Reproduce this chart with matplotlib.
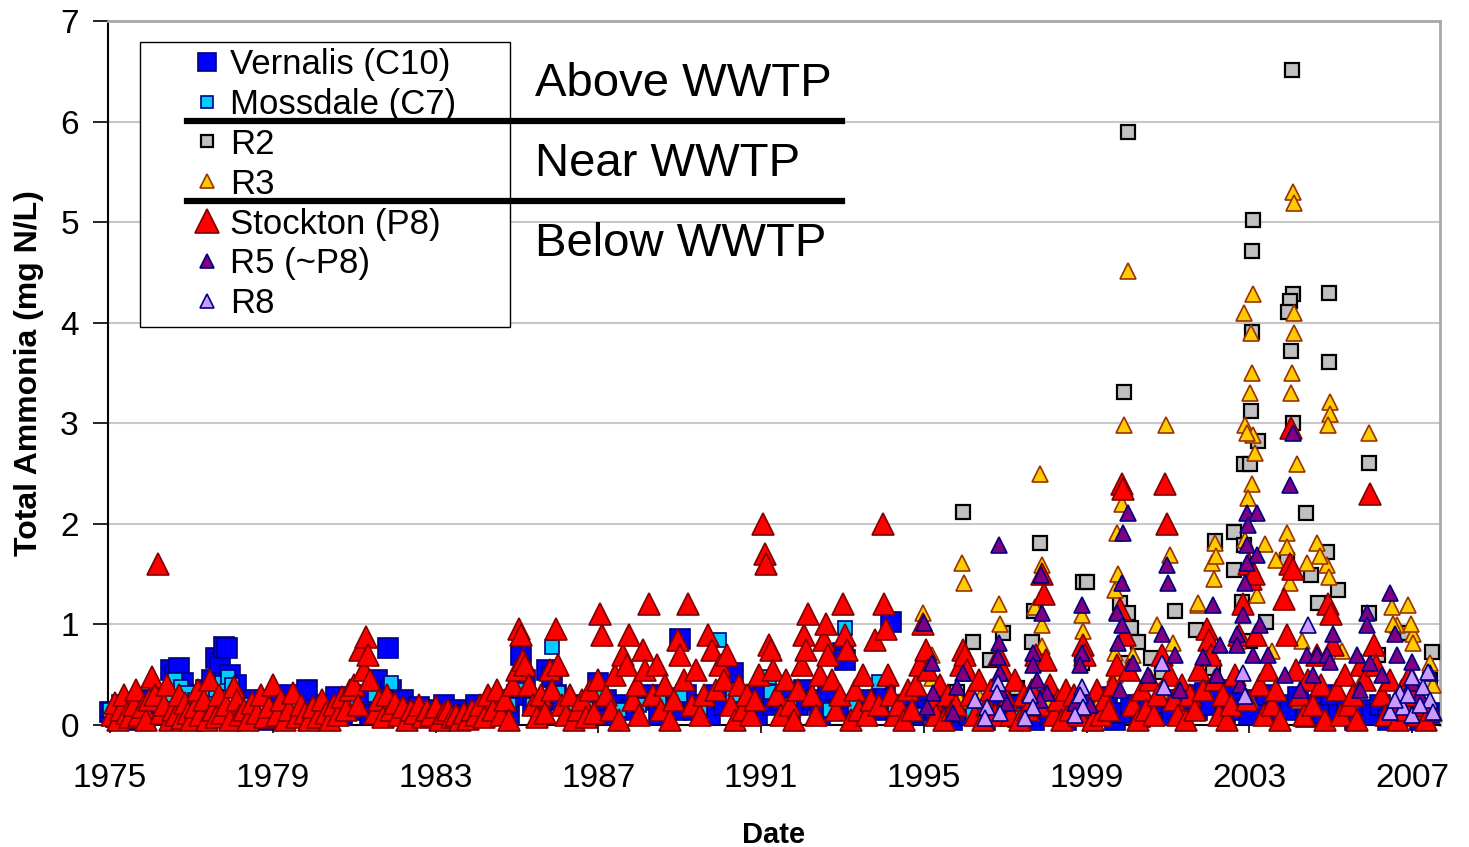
import numpy as np
import matplotlib.pyplot as plt
from matplotlib.lines import Line2D
from matplotlib.patches import Rectangle

plt.rcParams['font.family'] = ['Liberation Sans', 'DejaVu Sans']

# total ammonia (mg N/L) by decimal year
vernalis = [
    (1975.0, 0.13), (1975.15, 0.08), (1975.3, 0.2), (1975.45, 0.1), (1975.6, 0.05), (1975.75, 0.15), (1975.9, 0.25),
    (1976.05, 0.12), (1976.2, 0.3), (1976.35, 0.1), (1976.5, 0.55), (1976.6, 0.5), (1976.7, 0.57), (1976.8, 0.42), (1976.9, 0.2),
    (1977.05, 0.3), (1977.2, 0.1), (1977.35, 0.35), (1977.5, 0.45), (1977.6, 0.67), (1977.7, 0.62), (1977.8, 0.78), (1977.88, 0.77), (1977.95, 0.5),
    (1978.1, 0.4), (1978.25, 0.2), (1978.4, 0.1), (1978.55, 0.25), (1978.7, 0.15), (1978.85, 0.05),
    (1979.0, 0.2), (1979.2, 0.1), (1979.35, 0.3), (1979.5, 0.12), (1979.65, 0.22), (1979.84, 0.35),
    (1980.0, 0.15), (1980.2, 0.05), (1980.35, 0.2), (1980.55, 0.28), (1980.7, 0.1), (1980.85, 0.18),
    (1981.0, 0.15), (1981.2, 0.3), (1981.4, 0.1), (1981.55, 0.45), (1981.7, 0.25), (1981.83, 0.77), (1981.9, 0.35),
    (1982.05, 0.15), (1982.2, 0.25), (1982.4, 0.1), (1982.6, 0.18), (1982.8, 0.08),
    (1983.0, 0.15), (1983.2, 0.2), (1983.4, 0.05), (1983.6, 0.15), (1983.8, 0.1),
    (1984.0, 0.2), (1984.2, 0.1), (1984.4, 0.15), (1984.6, 0.25), (1984.8, 0.1),
    (1985.0, 0.3), (1985.1, 0.7), (1985.2, 0.45), (1985.4, 0.2), (1985.6, 0.15), (1985.75, 0.55), (1985.86, 0.48), (1985.95, 0.3),
    (1986.1, 0.25), (1986.3, 0.15), (1986.5, 0.1), (1986.7, 0.2), (1986.9, 0.15),
    (1986.99, 0.42), (1987.2, 0.25), (1987.4, 0.1), (1987.6, 0.2), (1987.8, 0.15),
    (1988.0, 0.25), (1988.3, 0.3), (1988.5, 0.1), (1988.7, 0.2), (1988.9, 0.15),
    (1989.0, 0.86), (1989.15, 0.3), (1989.35, 0.15), (1989.55, 0.2), (1989.75, 0.1), (1989.9, 0.3),
    (1990.1, 0.2), (1990.3, 0.52), (1990.5, 0.15), (1990.7, 0.3), (1990.9, 0.1),
    (1991.1, 0.3), (1991.3, 0.2), (1991.5, 0.25), (1991.7, 0.1), (1991.9, 0.2),
    (1992.05, 0.35), (1992.25, 0.25), (1992.45, 0.1), (1992.65, 0.3), (1992.85, 0.15),
    (1993.0, 0.72), (1993.05, 0.65), (1993.25, 0.2), (1993.45, 0.1), (1993.65, 0.25), (1993.85, 0.15),
    (1994.05, 0.3), (1994.2, 1.02), (1994.35, 0.15), (1994.55, 0.2), (1994.75, 0.1), (1994.9, 0.2),
    (1995.1, 0.15), (1995.3, 0.1), (1995.5, 0.2), (1995.7, 0.05), (1995.9, 0.15),
    (1996.1, 0.1), (1996.3, 0.2), (1996.5, 0.05), (1996.7, 0.15), (1996.9, 0.1),
    (1997.1, 0.2), (1997.3, 0.08), (1997.5, 0.15), (1997.7, 0.05), (1997.9, 0.25),
    (1998.1, 0.1), (1998.3, 0.18), (1998.5, 0.05), (1998.7, 0.12), (1998.9, 0.2),
    (1999.1, 0.1), (1999.3, 0.15), (1999.5, 0.28), (1999.7, 0.05), (1999.9, 0.12),
    (2000.1, 0.2), (2000.3, 0.08), (2000.5, 0.15), (2000.7, 0.1), (2000.9, 0.22),
    (2001.1, 0.1), (2001.3, 0.25), (2001.5, 0.3), (2001.7, 0.15), (2001.9, 0.32),
    (2002.05, 0.2), (2002.2, 0.35), (2002.4, 0.1), (2002.6, 0.3), (2002.8, 0.15),
    (2003.0, 0.1), (2003.2, 0.25), (2003.4, 0.3), (2003.6, 0.12), (2003.8, 0.2),
    (2004.0, 0.15), (2004.2, 0.28), (2004.4, 0.08), (2004.6, 0.2), (2004.8, 0.12),
    (2005.0, 0.3), (2005.2, 0.1), (2005.4, 0.18), (2005.6, 0.05), (2005.8, 0.15),
    (2006.0, 0.1), (2006.2, 0.2), (2006.4, 0.05), (2006.6, 0.12), (2006.8, 0.15),
    (2007.0, 0.1), (2007.2, 0.05), (2007.4, 0.12),
]

mossdale = [
    (1975.0, 0.15), (1975.2, 0.1), (1975.5, 0.2), (1975.8, 0.12), (1976.1, 0.25), (1976.4, 0.3),
    (1976.6, 0.45), (1976.75, 0.38), (1976.9, 0.32), (1977.1, 0.25), (1977.4, 0.3), (1977.6, 0.35),
    (1977.75, 0.42), (1977.9, 0.48), (1978.0, 0.4), (1978.3, 0.2), (1978.6, 0.15), (1979.0, 0.1),
    (1979.5, 0.15), (1980.0, 0.12), (1980.5, 0.1), (1981.0, 0.2), (1981.5, 0.3), (1981.9, 0.42),
    (1982.3, 0.15), (1982.8, 0.1), (1983.3, 0.12), (1983.8, 0.1), (1984.3, 0.15), (1984.8, 0.2),
    (1985.1, 0.35), (1985.4, 0.2), (1985.86, 0.78), (1986.0, 0.32), (1986.3, 0.15), (1986.7, 0.2),
    (1987.0, 0.3), (1987.5, 0.15), (1988.0, 0.2), (1988.5, 0.25), (1989.0, 0.3), (1989.5, 0.15),
    (1989.96, 0.85), (1990.3, 0.3), (1990.7, 0.15), (1991.2, 0.48), (1991.25, 0.33), (1991.7, 0.2),
    (1992.2, 0.25), (1992.7, 0.15), (1993.06, 0.96), (1993.3, 0.2), (1993.9, 0.43), (1994.3, 0.2),
    (1994.8, 0.1), (1995.2, 0.15), (1995.7, 0.1), (1996.2, 0.12), (1996.7, 0.08), (1997.2, 0.1),
]

r2 = [
    (1995.96, 2.12), (2004.04, 6.51), (2000.01, 5.9), (2003.08, 5.02), (2003.06, 4.71), (2004.07, 4.29),
    (2004.95, 4.3), (2003.99, 4.22), (2003.94, 4.11), (2003.06, 3.91), (1999.91, 3.31), (2004.02, 3.72),
    (2004.95, 3.61), (2003.03, 3.12), (2004.07, 3.0), (2003.21, 2.82), (2002.86, 2.6), (2003.01, 2.6),
    (2005.93, 2.61), (2004.39, 2.11), (1997.85, 1.81), (1998.91, 1.42), (1999.0, 1.42), (2002.62, 1.92),
    (2002.86, 1.79), (2002.15, 1.83), (2003.92, 1.64), (2004.9, 1.72), (2004.51, 1.49), (2002.81, 1.22),
    (2004.68, 1.21), (2005.93, 1.11), (1999.82, 1.21), (2000.01, 1.11), (2000.09, 0.96), (2000.26, 0.83),
    (2001.17, 1.13), (1997.7, 1.13), (1997.65, 0.83), (1996.2, 0.83), (1996.94, 0.92), (1996.62, 0.65),
    (1995.81, 0.33), (1997.29, 0.37), (1998.88, 0.62), (1999.86, 0.62), (2000.58, 0.67), (2000.85, 0.53),
    (2001.68, 0.94), (2002.1, 0.57), (2002.62, 1.54), (2003.01, 0.84), (2003.4, 1.02), (2005.17, 1.34),
    (2006.15, 0.7), (2006.87, 0.92), (2007.48, 0.73), (2006.82, 0.25), (2007.43, 0.45),
]

r3 = [
    (2000.01, 4.51), (2004.07, 5.3), (2004.09, 5.19), (2003.08, 4.29), (2002.86, 4.1), (2004.09, 4.1),
    (2003.03, 3.9), (2004.09, 3.9), (2003.06, 3.5), (2004.04, 3.5), (2003.01, 3.3), (2004.02, 3.3),
    (2004.98, 3.21), (2004.98, 3.09), (2004.93, 2.98), (1999.91, 2.98), (2000.95, 2.98), (2002.89, 2.98),
    (2003.08, 2.88), (2003.13, 2.7), (2005.93, 2.9), (2004.17, 2.6), (2002.94, 2.9), (2003.06, 2.4),
    (2002.96, 2.26), (2002.89, 1.84), (1995.94, 1.61), (1995.99, 1.41), (1994.98, 1.11), (1996.84, 1.2),
    (1997.85, 2.5), (1997.9, 1.59), (1999.74, 1.91), (1999.77, 1.5), (1999.86, 2.2), (2001.04, 1.69),
    (2002.15, 1.81), (2002.08, 1.61), (2003.92, 1.91), (2003.92, 1.77), (2004.66, 1.81), (2004.9, 1.59),
    (2004.41, 1.61), (2003.99, 1.41), (2003.18, 1.29), (2001.73, 1.19), (2006.5, 1.17), (2006.9, 1.19),
    (2006.62, 0.99), (2007.01, 0.91), (2007.01, 0.82), (2007.43, 0.62), (2007.5, 0.4), (2000.72, 0.99),
    (1999.69, 0.72), (1999.69, 0.5), (2000.13, 0.7), (2001.12, 0.82), (1995.2, 0.7), (1997.73, 1.17),
    (1997.9, 0.99), (1998.88, 1.09), (1996.38, 0.27), (1995.2, 0.47), (1996.87, 1.0), (1997.9, 0.79),
    (1998.9, 0.93), (1999.69, 1.34), (2002.12, 1.45), (2002.17, 1.68), (2004.73, 1.68), (2004.95, 1.47),
    (2006.52, 1.0), (2006.97, 1.0), (2003.38, 1.8), (2003.65, 1.64), (2001.73, 1.21), (2002.71, 0.84),
    (2003.55, 0.74), (2004.29, 0.84), (2005.27, 0.74), (2005.76, 0.45), (2000.8, 0.35), (2001.9, 0.35),
    (2003.01, 0.25), (2004.24, 0.25), (2005.47, 0.25), (1995.88, 0.25), (1996.87, 0.35), (1998.1, 0.25),
    (1999.32, 0.25),
]

stockton = [
    (1975.05, 0.1), (1975.12, 0.22), (1975.2, 0.05), (1975.28, 0.15), (1975.35, 0.3), (1975.42, 0.12), (1975.5, 0.08),
    (1975.58, 0.2), (1975.65, 0.35), (1975.72, 0.1), (1975.8, 0.18), (1975.88, 0.05), (1975.95, 0.25),
    (1976.02, 0.48), (1976.1, 0.3), (1976.18, 1.6), (1976.25, 0.12), (1976.33, 0.2), (1976.4, 0.4), (1976.48, 0.05),
    (1976.55, 0.15), (1976.62, 0.1), (1976.7, 0.3), (1976.78, 0.07), (1976.85, 0.22), (1976.92, 0.12),
    (1977.0, 0.05), (1977.08, 0.18), (1977.15, 0.35), (1977.22, 0.1), (1977.3, 0.25), (1977.38, 0.05), (1977.45, 0.45),
    (1977.52, 0.15), (1977.6, 0.08), (1977.68, 0.3), (1977.75, 0.12), (1977.85, 0.2), (1977.95, 0.05),
    (1978.05, 0.38), (1978.12, 0.25), (1978.2, 0.1), (1978.3, 0.15), (1978.4, 0.05), (1978.5, 0.22), (1978.6, 0.12),
    (1978.7, 0.3), (1978.8, 0.08), (1978.9, 0.18),
    (1979.0, 0.4), (1979.1, 0.1), (1979.2, 0.25), (1979.3, 0.05), (1979.4, 0.15), (1979.5, 0.32), (1979.6, 0.08),
    (1979.7, 0.2), (1979.8, 0.12), (1979.9, 0.05),
    (1980.0, 0.18), (1980.1, 0.08), (1980.2, 0.25), (1980.3, 0.12), (1980.4, 0.05), (1980.5, 0.2), (1980.6, 0.1),
    (1980.7, 0.28), (1980.8, 0.15), (1980.9, 0.35),
    (1981.0, 0.4), (1981.1, 0.2), (1981.15, 0.75), (1981.25, 0.55), (1981.3, 0.88), (1981.35, 0.7), (1981.4, 0.45),
    (1981.5, 0.12), (1981.6, 0.25), (1981.7, 0.08), (1981.8, 0.3), (1981.9, 0.15),
    (1982.0, 0.22), (1982.1, 0.1), (1982.2, 0.18), (1982.3, 0.05), (1982.4, 0.15), (1982.5, 0.12), (1982.6, 0.2),
    (1982.7, 0.08), (1982.8, 0.15), (1982.9, 0.1),
    (1983.0, 0.18), (1983.1, 0.05), (1983.2, 0.12), (1983.3, 0.15), (1983.4, 0.08), (1983.5, 0.1), (1983.6, 0.05),
    (1983.7, 0.12), (1983.8, 0.06), (1983.9, 0.15),
    (1984.0, 0.1), (1984.1, 0.2), (1984.2, 0.08), (1984.3, 0.3), (1984.4, 0.15), (1984.5, 0.35), (1984.6, 0.1),
    (1984.7, 0.25), (1984.8, 0.05), (1984.9, 0.4),
    (1985.0, 0.55), (1985.05, 0.95), (1985.1, 0.9), (1985.15, 0.65), (1985.2, 0.6), (1985.3, 0.4), (1985.4, 0.2),
    (1985.5, 0.08), (1985.6, 0.3), (1985.7, 0.12), (1985.8, 0.55), (1985.85, 0.35), (1985.95, 0.95),
    (1986.02, 0.6), (1986.1, 0.2), (1986.2, 0.1), (1986.3, 0.3), (1986.4, 0.05), (1986.5, 0.15), (1986.6, 0.25),
    (1986.7, 0.08), (1986.8, 0.35), (1986.9, 0.12),
    (1987.0, 0.45), (1987.05, 1.1), (1987.1, 0.9), (1987.2, 0.3), (1987.3, 0.15), (1987.4, 0.5), (1987.5, 0.05),
    (1987.6, 0.7), (1987.7, 0.6), (1987.75, 0.9), (1987.85, 0.25), (1987.95, 0.4),
    (1988.0, 0.1), (1988.1, 0.75), (1988.15, 0.55), (1988.25, 1.2), (1988.35, 0.3), (1988.45, 0.6), (1988.55, 0.15),
    (1988.65, 0.4), (1988.75, 0.05), (1988.85, 0.25), (1988.95, 0.85),
    (1989.0, 0.7), (1989.1, 0.45), (1989.2, 1.2), (1989.3, 0.2), (1989.4, 0.55), (1989.5, 0.1), (1989.6, 0.3),
    (1989.7, 0.9), (1989.8, 0.75), (1989.9, 0.35),
    (1990.0, 0.6), (1990.1, 0.45), (1990.15, 0.7), (1990.25, 0.2), (1990.35, 0.05), (1990.45, 0.4), (1990.55, 0.15),
    (1990.65, 0.3), (1990.75, 0.1), (1990.85, 0.25), (1990.95, 0.5),
    (1991.05, 2.0), (1991.1, 1.7), (1991.12, 1.6), (1991.2, 0.8), (1991.25, 0.75), (1991.3, 0.55), (1991.4, 0.3),
    (1991.5, 0.1), (1991.6, 0.45), (1991.7, 0.2), (1991.8, 0.05), (1991.9, 0.35),
    (1992.0, 0.6), (1992.05, 0.9), (1992.1, 0.75), (1992.15, 1.1), (1992.25, 0.3), (1992.35, 0.1), (1992.45, 0.5),
    (1992.55, 0.85), (1992.6, 1.0), (1992.65, 0.7), (1992.75, 0.45), (1992.85, 0.15), (1992.95, 0.3),
    (1993.0, 1.2), (1993.05, 0.9), (1993.1, 0.75), (1993.2, 0.05), (1993.3, 0.35), (1993.4, 0.15), (1993.5, 0.5),
    (1993.6, 0.1), (1993.7, 0.25), (1993.8, 0.85), (1993.9, 0.2),
    (1994.0, 2.0), (1994.03, 1.2), (1994.08, 0.95), (1994.12, 0.5), (1994.2, 0.3), (1994.3, 0.1), (1994.4, 0.2),
    (1994.5, 0.05), (1994.6, 0.35), (1994.7, 0.15), (1994.8, 0.4), (1994.9, 0.6),
    (1994.97, 1.0), (1995.05, 0.75), (1995.1, 0.55), (1995.2, 0.25), (1995.3, 0.1), (1995.4, 0.4), (1995.5, 0.05),
    (1995.6, 0.3), (1995.7, 0.15), (1995.8, 0.2), (1995.9, 0.6),
    (1995.95, 0.75), (1996.0, 0.7), (1996.05, 0.55), (1996.15, 0.3), (1996.25, 0.1), (1996.35, 0.45), (1996.45, 0.05),
    (1996.55, 0.2), (1996.65, 0.35), (1996.75, 0.1), (1996.85, 0.7), (1996.95, 0.55),
    (1997.05, 0.25), (1997.15, 0.1), (1997.25, 0.45), (1997.35, 0.05), (1997.45, 0.3), (1997.55, 0.15), (1997.65, 0.35),
    (1997.75, 0.7), (1997.85, 0.2), (1997.9, 1.5), (1997.95, 1.3),
    (1998.0, 0.65), (1998.1, 0.4), (1998.2, 0.1), (1998.3, 0.25), (1998.4, 0.05), (1998.5, 0.35), (1998.6, 0.15),
    (1998.7, 0.3), (1998.8, 0.1), (1998.9, 0.8), (1998.95, 0.7),
    (1999.05, 0.2), (1999.15, 0.05), (1999.25, 0.35), (1999.35, 0.1), (1999.45, 0.25), (1999.55, 0.15), (1999.65, 0.4),
    (1999.75, 0.6), (1999.82, 1.15), (1999.86, 2.4), (1999.9, 2.35), (1999.95, 0.9),
    (2000.05, 0.55), (2000.15, 0.2), (2000.25, 0.05), (2000.35, 0.35), (2000.45, 0.15), (2000.55, 0.45), (2000.65, 0.1),
    (2000.75, 0.3), (2000.85, 0.7), (2000.92, 2.4), (2000.97, 2.0),
    (2001.05, 0.5), (2001.15, 0.25), (2001.25, 0.1), (2001.35, 0.4), (2001.45, 0.05), (2001.55, 0.3), (2001.65, 0.15),
    (2001.75, 0.55), (2001.85, 0.35), (2001.95, 0.95),
    (2002.0, 0.85), (2002.05, 0.7), (2002.15, 0.45), (2002.25, 0.1), (2002.35, 0.3), (2002.45, 0.05), (2002.55, 0.2),
    (2002.65, 0.5), (2002.75, 0.9), (2002.85, 1.2), (2002.95, 0.25),
    (2003.0, 1.6), (2003.05, 1.45), (2003.1, 1.5), (2003.15, 0.9), (2003.25, 0.4), (2003.35, 0.1), (2003.45, 0.55),
    (2003.55, 0.2), (2003.65, 0.35), (2003.75, 0.05), (2003.85, 1.25), (2003.92, 0.9),
    (2004.0, 1.6), (2004.03, 2.95), (2004.08, 1.55), (2004.15, 0.55), (2004.25, 0.3), (2004.35, 0.1), (2004.45, 0.45),
    (2004.55, 0.2), (2004.65, 0.7), (2004.75, 0.4), (2004.85, 0.05), (2004.92, 1.2),
    (2005.0, 1.1), (2005.05, 0.8), (2005.15, 0.35), (2005.25, 0.1), (2005.35, 0.5), (2005.45, 0.2), (2005.55, 0.3),
    (2005.65, 0.05), (2005.75, 0.6), (2005.85, 0.45), (2005.95, 2.3),
    (2006.05, 0.8), (2006.12, 0.6), (2006.25, 0.3), (2006.35, 0.1), (2006.45, 0.45), (2006.55, 0.2), (2006.65, 0.05),
    (2006.75, 0.35), (2006.85, 0.15), (2006.95, 0.5),
    (2007.05, 0.3), (2007.15, 0.1), (2007.25, 0.2), (2007.35, 0.05), (2007.45, 0.15),
]

r5 = [
    (1996.84, 1.79), (1995.0, 1.01), (1995.2, 0.62), (1995.22, 0.32), (1995.07, 0.18), (1995.96, 0.52),
    (1995.81, 0.38), (1995.71, 0.12), (1996.84, 0.82), (1996.82, 0.68), (1996.87, 0.52), (1997.04, 0.22),
    (1997.87, 1.49), (1997.9, 1.11), (1997.68, 0.72), (1997.68, 0.6), (1997.78, 0.45), (1998.02, 0.32),
    (1998.88, 1.19), (1998.88, 0.72), (1998.83, 0.6), (1998.71, 0.22), (1999.08, 0.2), (2000.01, 2.11),
    (1999.89, 1.91), (1999.86, 1.41), (1999.74, 1.11), (1999.86, 0.99), (1999.77, 0.82), (2000.13, 0.62),
    (2000.5, 0.5), (2000.85, 0.91), (2000.97, 1.59), (2001.0, 1.41), (2001.17, 0.7), (2002.1, 1.19),
    (2001.86, 0.68), (2002.27, 0.8), (2002.2, 0.5), (2002.94, 2.11), (2003.18, 2.11), (2002.96, 1.99),
    (2002.94, 1.79), (2003.18, 1.69), (2002.94, 1.61), (2002.89, 1.41), (2002.84, 1.09), (2002.69, 0.91),
    (2003.26, 0.99), (2002.69, 0.8), (2003.08, 0.7), (2003.45, 0.7), (2003.87, 0.5), (2003.99, 2.39),
    (2004.07, 2.9), (2004.41, 0.7), (2004.66, 0.7), (2004.9, 0.7), (2004.56, 0.5), (2005.05, 0.91),
    (2004.98, 0.63), (2005.88, 1.11), (2005.88, 0.99), (2005.96, 0.62), (2005.64, 0.7), (2006.25, 0.5),
    (2006.45, 1.31), (2006.57, 0.91), (2006.62, 0.7), (2006.99, 0.63), (2007.43, 0.52), (2006.99, 0.42),
    (1996.87, 0.35), (1997.85, 0.25), (1999.82, 0.35), (2001.29, 0.35), (2002.76, 0.4), (2004.24, 0.35),
    (2005.71, 0.35), (2007.19, 0.3),
]

r8 = [
    (1996.82, 0.42), (1996.8, 0.32), (1996.55, 0.18), (1996.87, 0.12), (1996.25, 0.25), (1996.5, 0.07),
    (1997.6, 0.3), (1997.68, 0.18), (1997.48, 0.07), (1998.88, 0.38), (1998.83, 0.3), (1998.9, 0.18),
    (1998.71, 0.1), (2000.85, 0.62), (2000.9, 0.38), (2002.84, 0.52), (2002.89, 0.29), (2004.43, 0.99),
    (2006.99, 0.48), (2006.7, 0.32), (2006.77, 0.18), (2007.0, 0.1), (2007.26, 0.38), (2007.43, 0.25),
    (2007.5, 0.13), (2007.19, 0.2), (2006.45, 0.13), (2006.57, 0.25), (2006.9, 0.3), (2007.38, 0.53),
]

year_ticks = list(range(1975, 2008, 4))

# name, data, marker, size, face, edge, edge width
series = [
    ('Vernalis (C10)', vernalis, 's', 14, '#0000FF', '#000080', 1.2),
    ('Mossdale (C7)', mossdale, 's', 9.5, '#00CCFF', '#000080', 1.2),
    ('R2', r2, 's', 10, '#C0C0C0', '#000000', 1.6),
    ('R3', r3, '^', 11, '#FFCC00', '#993300', 1.2),
    ('Stockton (P8)', stockton, '^', 16, '#FF0000', '#800000', 1.2),
    ('R5 (~P8)', r5, '^', 11, '#800080', '#000080', 1.2),
    ('R8', r8, '^', 11, '#CC99FF', '#000080', 1.2),
]
legend_size = {'Vernalis (C10)': 13, 'Mossdale (C7)': 8.5, 'R2': 8.5, 'R3': 10,
               'Stockton (P8)': 17, 'R5 (~P8)': 10, 'R8': 10}

fig = plt.figure(figsize=(14.69, 8.47), dpi=100)
ax = fig.add_axes([0.0735, 0.1440, 0.9067, 0.8312])

handles = []
for i, (name, pts, mk, ms, fc, ec, ew) in enumerate(series):
    d = np.array(pts)
    ax.plot(d[:, 0], d[:, 1], linestyle='none', marker=mk, markersize=ms,
            markerfacecolor=fc, markeredgecolor=ec, markeredgewidth=ew,
            clip_on=False, zorder=3 + i)
    handles.append(Line2D([], [], linestyle='none', marker=mk, markersize=legend_size[name],
                          markerfacecolor=fc, markeredgecolor=ec, markeredgewidth=ew, label=name))

ax.set_xlim(1974.95, 2007.68)
ax.set_ylim(0, 7)
ax.set_xticks(year_ticks)
ax.set_xticklabels([str(y) for y in year_ticks])
ax.set_yticks(range(0, 8))
ax.tick_params(axis='x', labelsize=24, length=6, width=1.2, direction='out', pad=21)
ax.tick_params(axis='y', labelsize=24, length=11, width=1.2, direction='out', pad=10)
ax.grid(axis='y', color='#C8C8C8', linewidth=1.5)
ax.set_axisbelow(True)
for s in ['left', 'bottom']:
    ax.spines[s].set_color('black')
    ax.spines[s].set_linewidth(1.5)
for s in ['top', 'right']:
    ax.spines[s].set_color('#A8A8A8')
    ax.spines[s].set_linewidth(2)

ax.set_xlabel('Date', fontsize=21, fontweight='bold', labelpad=20)
ax.set_ylabel('Total Ammonia (mg N/L)', fontsize=23, fontweight='bold', labelpad=12)

# legend box drawn separately so it can be wider than the entries
ax.add_patch(Rectangle((0.024, 0.565), 0.278, 0.405, transform=ax.transAxes,
                       facecolor='white', edgecolor='black', linewidth=1.0, zorder=20))
leg = ax.legend(handles=handles, loc='upper left', bbox_to_anchor=(0.0653, 0.962),
                frameon=False, fontsize=25, borderpad=0, borderaxespad=0,
                handlelength=0.7, handletextpad=0.3, labelspacing=0.2)
leg.set_zorder(21)

ax.text(0.3206, 0.911, 'Above WWTP', transform=ax.transAxes, fontsize=34,
        va='center', ha='left', zorder=22)
ax.text(0.3206, 0.797, 'Near WWTP', transform=ax.transAxes, fontsize=34,
        va='center', ha='left', zorder=22)
ax.text(0.3206, 0.683, 'Below WWTP', transform=ax.transAxes, fontsize=34,
        va='center', ha='left', zorder=22)
for yy in [0.858, 0.744]:
    ax.plot([0.0593, 0.551], [yy, yy], color='black', linewidth=4.5,
            transform=ax.transAxes, clip_on=False, zorder=23)

fig.savefig('out.png', dpi=100)
